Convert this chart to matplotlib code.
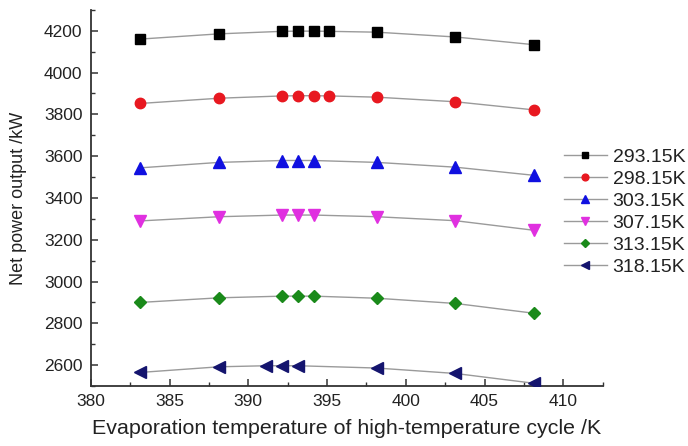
import matplotlib
matplotlib.use("Agg")
import matplotlib.pyplot as plt
from matplotlib.ticker import MultipleLocator

plt.rcParams['font.family'] = ['Liberation Sans', 'DejaVu Sans']

labels = ["293.15K", "298.15K", "303.15K", "307.15K", "313.15K", "318.15K"]

x_293 = [383.15, 388.15, 392.15, 393.15, 394.15, 395.15, 398.15, 403.15, 408.15]
y_293 = [4160, 4185, 4197, 4198, 4198, 4197, 4193, 4170, 4133]

x_298 = [383.15, 388.15, 392.15, 393.15, 394.15, 395.15, 398.15, 403.15, 408.15]
y_298 = [3852, 3877, 3888, 3889, 3889, 3888, 3882, 3860, 3821]

x_303 = [383.15, 388.15, 392.15, 393.15, 394.15, 398.15, 403.15, 408.15]
y_303 = [3544, 3570, 3579, 3579, 3579, 3570, 3547, 3508]

x_307 = [383.15, 388.15, 392.15, 393.15, 394.15, 398.15, 403.15, 408.15]
y_307 = [3290, 3310, 3318, 3318, 3318, 3310, 3291, 3245]

x_313 = [383.15, 388.15, 392.15, 393.15, 394.15, 398.15, 403.15, 408.15]
y_313 = [2900, 2922, 2930, 2930, 2930, 2920, 2895, 2848]

x_318 = [383.15, 388.15, 391.15, 392.15, 393.15, 398.15, 403.15, 408.15]
y_318 = [2565, 2592, 2597, 2597, 2597, 2586, 2560, 2513]

xs = [x_293, x_298, x_303, x_307, x_313, x_318]
ys = [y_293, y_298, y_303, y_307, y_313, y_318]
markers = ['s', 'o', '^', 'v', 'D', '<']
colors = ['#000000', '#e81820', '#1010e0', '#e030e0', '#1a8a1a', '#14146e']
msizes = [6.5, 7.5, 8, 8, 6.5, 8]

fig = plt.figure(figsize=(6.88, 4.46), dpi=100)
ax = fig.add_axes([0.132, 0.1345, 0.744, 0.8435])

for x, y, m, c, s, lab in zip(xs, ys, markers, colors, msizes, labels):
    ax.plot(x, y, color='#9a9a9a', lw=1.0, marker=m, markersize=s,
            markerfacecolor=c, markeredgecolor=c, label=lab, zorder=3)

ax.set_xlim(380, 412.5)
ax.set_ylim(2500, 4300)
ax.xaxis.set_major_locator(MultipleLocator(5))
ax.xaxis.set_minor_locator(MultipleLocator(2.5))
ax.yaxis.set_major_locator(MultipleLocator(200))
ax.yaxis.set_minor_locator(MultipleLocator(100))

for s in ['top', 'right']:
    ax.spines[s].set_visible(False)
for s in ['left', 'bottom']:
    ax.spines[s].set_color('#333333')
    ax.spines[s].set_linewidth(1.3)

ax.tick_params(which='major', direction='in', length=5, width=1.1,
               labelsize=12.5, colors='#333333', labelcolor='#222222', pad=6)
ax.tick_params(which='minor', direction='in', length=3, width=1.0, colors='#333333')

ax.set_xlabel("Evaporation temperature of high-temperature cycle /K",
              fontsize=15.4, color='#222222', labelpad=7)
ax.set_ylabel("Net power output /kW", fontsize=13, color='#222222', labelpad=12)

leg = ax.legend(loc='upper left', bbox_to_anchor=(564/688, 1 - 148/446),
                bbox_transform=fig.transFigure, frameon=False,
                fontsize=14, handlelength=2.2, labelspacing=0.23,
                handletextpad=0.3, borderpad=0, borderaxespad=0,
                markerscale=0.65)
for t in leg.get_texts():
    t.set_color('#222222')

fig.savefig("out.png", dpi=100)
